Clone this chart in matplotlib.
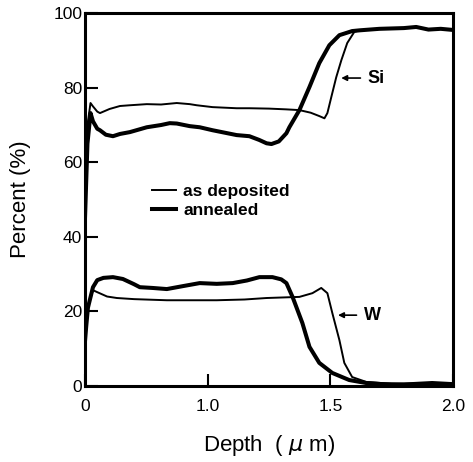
import numpy as np
import matplotlib
matplotlib.use("Agg")
import matplotlib.pyplot as plt
from matplotlib.lines import Line2D

plt.rcParams['font.family'] = ['Liberation Sans', 'DejaVu Sans']

# depth (um) / atomic percent profiles
si_dep_x = [0.0, 0.01, 0.02, 0.045, 0.065, 0.10, 0.122, 0.20, 0.285, 0.366, 0.504,
            0.62, 0.748, 0.854, 0.911, 1.02, 1.118, 1.17, 1.25, 1.32, 1.374, 1.42,
            1.455, 1.476, 1.488, 1.504, 1.524, 1.545, 1.569, 1.598, 1.62, 1.70,
            1.80, 1.85, 1.90, 1.95, 2.0]
si_dep_y = [50, 62, 70, 75.9, 75.0, 73.6, 73.2, 74.3, 75.1, 75.3, 75.6,
            75.5, 75.9, 75.6, 75.3, 74.8, 74.5, 74.5, 74.4, 74.2, 74.0, 73.3,
            72.4, 71.8, 73.2, 77.5, 82.8, 87.4, 92.0, 95.0, 95.4, 95.8,
            96.0, 96.3, 95.6, 95.8, 95.5]

si_ann_x = [0.0, 0.01, 0.02, 0.045, 0.065, 0.10, 0.122, 0.17, 0.228, 0.285, 0.366,
            0.504, 0.62, 0.691, 0.748, 0.854, 0.935, 1.020, 1.118, 1.17, 1.21,
            1.24, 1.26, 1.29, 1.321, 1.333, 1.374, 1.415, 1.455, 1.496, 1.537,
            1.589, 1.62, 1.70, 1.80, 1.85, 1.90, 1.95, 2.0]
si_ann_y = [45, 55, 65, 73.2, 71.0, 69.0, 68.6, 67.4, 67.0, 67.6, 68.1,
            69.4, 70.0, 70.5, 70.4, 69.7, 69.4, 68.6, 67.3, 67.0, 66.0,
            65.1, 64.9, 65.6, 67.8, 69.4, 74.0, 80.2, 86.6, 91.4, 94.1,
            95.2, 95.4, 95.8, 96.0, 96.3, 95.6, 95.8, 95.5]

w_dep_x = [0.0, 0.015, 0.03, 0.065, 0.098, 0.18, 0.26, 0.40, 0.667, 0.90, 1.037,
           1.15, 1.24, 1.374, 1.427, 1.463, 1.488, 1.508, 1.537, 1.557, 1.589,
           1.646, 1.75, 1.85, 1.95, 2.0]
w_dep_y = [12, 18, 22, 25.7, 25.2, 24.0, 23.6, 23.3, 23.0, 23.0, 23.0,
           23.2, 23.6, 23.9, 24.9, 26.3, 24.9, 19.6, 12.3, 6.2, 2.4,
           1.1, 0.6, 0.7, 0.5, 0.5]

w_ann_x = [0.0, 0.01, 0.024, 0.065, 0.10, 0.15, 0.228, 0.309, 0.40, 0.447, 0.55,
           0.667, 0.80, 0.935, 1.037, 1.102, 1.16, 1.211, 1.264, 1.30, 1.321,
           1.346, 1.386, 1.415, 1.455, 1.508, 1.577, 1.646, 1.711, 1.80, 1.915, 2.0]
w_ann_y = [12, 16, 21, 26.5, 28.4, 29.0, 29.2, 28.7, 27.3, 26.5, 26.3,
           26.0, 26.8, 27.6, 27.4, 27.6, 28.3, 29.2, 29.2, 28.6, 27.6,
           23.9, 16.9, 10.5, 6.2, 3.5, 1.6, 0.8, 0.5, 0.4, 0.8, 0.5]

x_ticks = [0, 1.0, 1.5, 2.0]
x_tick_labels = ['0', '1.0', '1.5', '2.0']
y_ticks = [0, 20, 40, 60, 80, 100]


# depth axis: first micron compressed, beyond 1.0 stretched twice
def fwd(d):
    d = np.asarray(d, dtype=float)
    return np.where(d < 1.0, d, 1.0 + 2.0 * (d - 1.0))


def inv(p):
    p = np.asarray(p, dtype=float)
    return np.where(p < 1.0, p, 1.0 + (p - 1.0) / 2.0)


fig = plt.figure(figsize=(4.73, 4.62), dpi=100)
ax = fig.add_axes([0.1797, 0.1645, 0.778, 0.807])
ax.set_xscale('function', functions=(fwd, inv))

thin = 1.4
thick = 2.9
ax.plot(si_dep_x, si_dep_y, color='black', lw=thin)
ax.plot(w_dep_x, w_dep_y, color='black', lw=thin)
ax.plot(si_ann_x, si_ann_y, color='black', lw=thick)
ax.plot(w_ann_x, w_ann_y, color='black', lw=thick)

ax.set_xlim(0, 2.0)
ax.set_ylim(0, 100)
ax.set_xticks(x_ticks)
ax.set_xticklabels(x_tick_labels)
ax.set_yticks(y_ticks)
ax.tick_params(direction='in', length=9, width=1.5, labelsize=12.5,
               top=False, right=False)
ax.tick_params(axis='x', pad=9)
ax.tick_params(axis='y', pad=2)
for sp in ax.spines.values():
    sp.set_linewidth(2.2)

ax.set_xlabel('Depth  ( $\\mu$ m)', fontsize=16, labelpad=14)
ax.set_ylabel('Percent (%)', fontsize=16, labelpad=16)

# element labels with arrows
ax.annotate('', xy=(1.533, 82.6), xytext=(1.634, 82.6),
            arrowprops=dict(arrowstyle='-|>', lw=1.2, color='black', mutation_scale=8))
ax.text(1.650, 82.6, 'Si', fontsize=13, fontweight='bold', va='center', ha='left')
ax.annotate('', xy=(1.520, 19.0), xytext=(1.618, 19.0),
            arrowprops=dict(arrowstyle='-|>', lw=1.2, color='black', mutation_scale=8))
ax.text(1.638, 19.0, 'W', fontsize=13, fontweight='bold', va='center', ha='left')

handles = [Line2D([], [], color='black', lw=thin),
           Line2D([], [], color='black', lw=thick)]
ax.legend(handles, ['as deposited', 'annealed'], frameon=False,
          loc='upper left', bbox_to_anchor=(0.14, 0.585), handlelength=1.4,
          handletextpad=0.4, labelspacing=0.25,
          prop={'size': 12.5, 'weight': 'bold'})

fig.savefig('out.png', dpi=100)
